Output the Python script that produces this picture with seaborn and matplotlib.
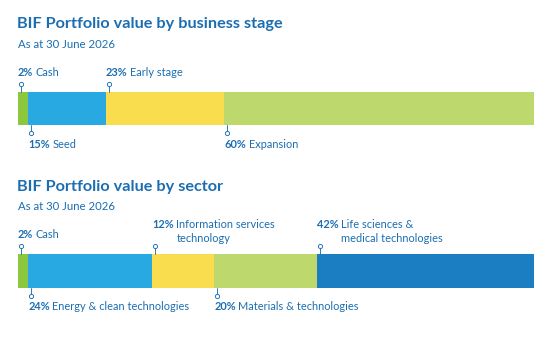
import numpy as np
import matplotlib
matplotlib.use("Agg")
import matplotlib.pyplot as plt
import matplotlib.transforms as mtransforms
import seaborn as sns

# data
stage_labels = ["Cash", "Seed", "Early stage", "Expansion"]
stage_values = [2, 15, 23, 60]
stage_colors = ["#8DC63F", "#29A9E1", "#FADC4F", "#BDD86D"]
stage_side = ["top", "bottom", "top", "bottom"]

sector_labels = ["Cash", "Energy & clean technologies", "Information services\ntechnology",
                 "Materials & technologies", "Life sciences &\nmedical technologies"]
sector_values = [2, 24, 12, 20, 42]
sector_colors = ["#8DC63F", "#29A9E1", "#FADC4F", "#BDD86D", "#1B7EC2"]
sector_side = ["top", "bottom", "top", "bottom", "top"]

TXT = "#1C6EB2"
W, H = 550, 344

sns.set_style("white")
plt.rcParams['font.family'] = ['Lato', 'DejaVu Sans']

fig = plt.figure(figsize=(W / 72, H / 72), dpi=72)
renderer = fig.canvas.get_renderer()


def px(x, y):
    return x / W, 1 - y / H


def stacked(ax, values, colors):
    cum = np.cumsum(values)
    # draw longest first, shorter ones on top
    for i in reversed(range(len(values))):
        sns.barplot(x=[cum[i]], y=[""], color=colors[i], orient="h", width=1,
                    saturation=1, linewidth=0, ax=ax)
    ax.set_xlim(0, 100)
    ax.set_ylim(0.5, -0.5)
    ax.axis("off")
    return cum - np.array(values)


def label(ax, start, pct, text, side):
    trans = mtransforms.blended_transform_factory(ax.transData, ax.transAxes)
    bar_h = ax.get_window_extent().height
    sgn = 1 if side == "top" else -1
    base = 1 if side == "top" else 0
    mx = start + 0.6
    # stem and hollow marker
    ax.plot([mx, mx], [base, base + sgn * 6.5 / bar_h], color=TXT, lw=0.9,
            transform=trans, clip_on=False)
    ax.plot([mx], [base + sgn * 8 / bar_h], marker="o", ms=4.2, mfc="white",
            mec=TXT, mew=0.9, transform=trans, clip_on=False)
    lines = text.split("\n")
    if side == "top":
        y0 = 1 + (19 + 13 * (len(lines) - 1) - (3 if len(lines) > 1 else 0)) / bar_h
    else:
        y0 = -19 / bar_h
    t = ax.text(start, y0, f"{pct}%", transform=trans, fontsize=11,
                fontweight="bold", color=TXT, va="center", ha="left")
    ext = t.get_window_extent(renderer)
    inv = ax.transData.inverted()
    xl = inv.transform((ext.x1 + 2.5, 0))[0]
    for k, ln in enumerate(lines):
        ax.text(xl, y0 - k * 13 / bar_h, ln, transform=trans, fontsize=11,
                color=TXT, va="center", ha="left")


ax1 = fig.add_axes([18 / W, 1 - 125 / H, 516 / W, 33 / H])
starts1 = stacked(ax1, stage_values, stage_colors)
for s, v, l, sd in zip(starts1, stage_values, stage_labels, stage_side):
    label(ax1, s, v, l, sd)

ax2 = fig.add_axes([18 / W, 1 - 288 / H, 516 / W, 34 / H])
starts2 = stacked(ax2, sector_values, sector_colors)
for s, v, l, sd in zip(starts2, sector_values, sector_labels, sector_side):
    label(ax2, s, v, l, sd)

fig.text(*px(17, 24), "BIF Portfolio value by business stage", fontsize=16.3,
         fontweight="bold", color=TXT, va="center")
fig.text(*px(18, 44), "As at 30 June 2026", fontsize=11.4, color=TXT, va="center")
fig.text(*px(17, 187), "BIF Portfolio value by sector", fontsize=16.3,
         fontweight="bold", color=TXT, va="center")
fig.text(*px(18, 207), "As at 30 June 2026", fontsize=11.4, color=TXT, va="center")

fig.savefig("out.png", dpi=72, facecolor="white")
